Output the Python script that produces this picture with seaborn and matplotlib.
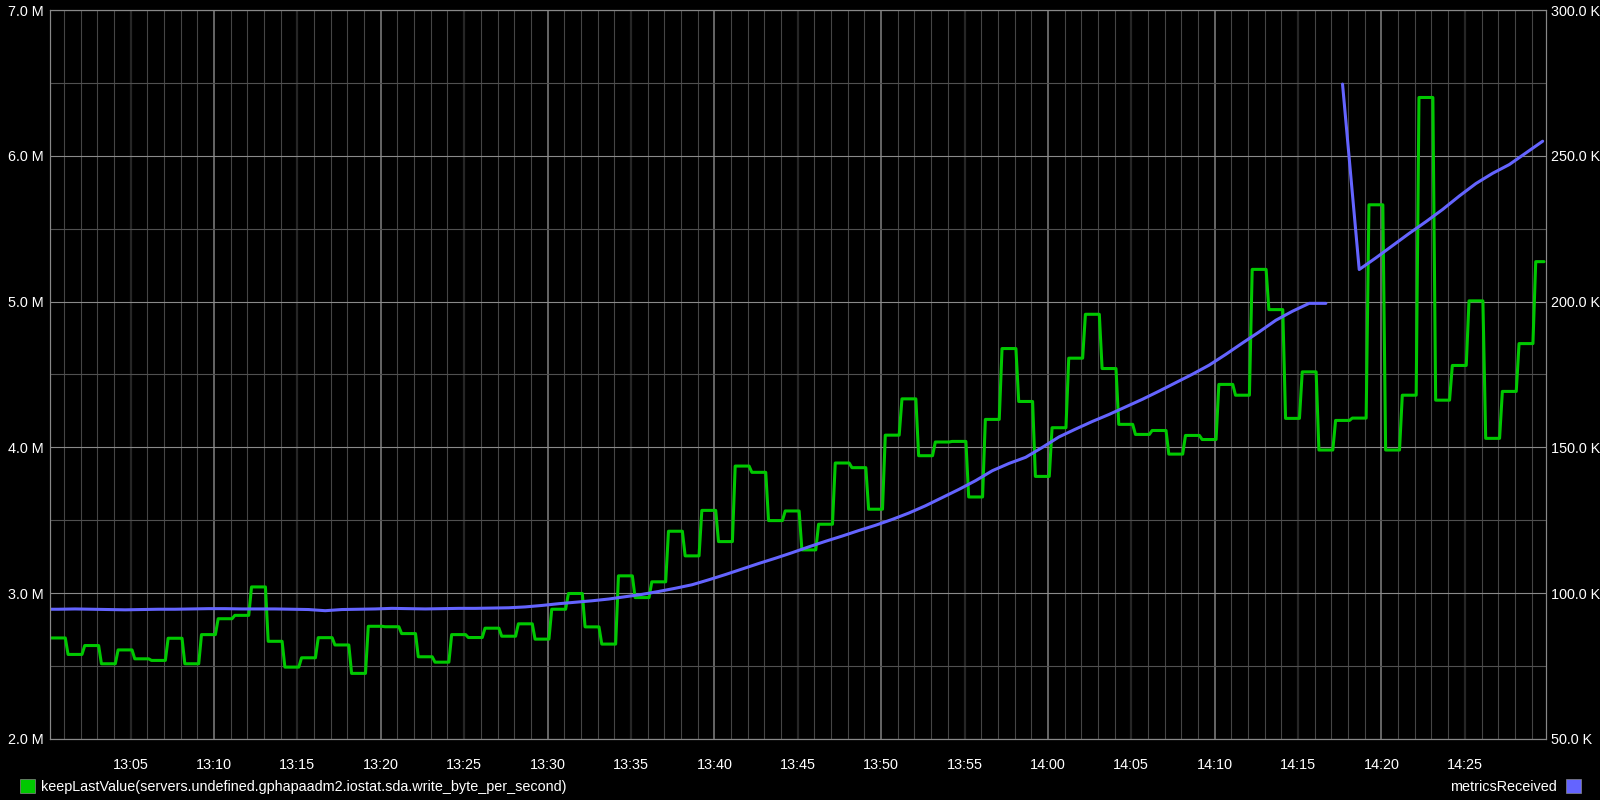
import numpy as np
import pandas as pd
import matplotlib
matplotlib.use("Agg")
import matplotlib.pyplot as plt
import matplotlib.dates as mdates
from matplotlib.patches import Patch
from matplotlib.ticker import FuncFormatter, MultipleLocator
import seaborn as sns

DAY = "2015-06-01 "
GREEN = "#00c800"
BLUE = "#6464ff"
FS = 10.4

green_label = "keepLastValue(servers.undefined.gphapaadm2.iostat.sda.write_byte_per_second)"
blue_label = "metricsReceived"

# write_byte_per_second in millions, one reported value per minute from 13:00
# (keepLastValue holds it over the 10 s slots until the next report)
write_mb = [
    2.693, 2.580, 2.641, 2.516, 2.611, 2.550, 2.539, 2.691, 2.516, 2.716,
    2.825, 2.848, 3.043, 2.670, 2.493, 2.557, 2.695, 2.645, 2.450, 2.773,
    2.770, 2.723, 2.564, 2.527, 2.716, 2.696, 2.760, 2.705, 2.790, 2.685,
    2.890, 2.998, 2.769, 2.651, 3.119, 2.970, 3.078, 3.425, 3.256, 3.568,
    3.354, 3.872, 3.829, 3.498, 3.564, 3.297, 3.473, 3.893, 3.861, 3.576,
    4.084, 4.333, 3.943, 4.037, 4.041, 3.660, 4.192, 4.678, 4.315, 3.801,
    4.135, 4.612, 4.913, 4.541, 4.158, 4.089, 4.116, 3.954, 4.082, 4.054,
    4.432, 4.358, 5.221, 4.945, 4.199, 4.518, 3.982, 4.185, 4.201, 5.664,
    3.982, 4.358, 6.400, 4.324, 4.562, 5.005, 4.062, 4.384, 4.712, 5.274,
]

# metricsReceived in thousands, one point per minute at hh:mm:40
metrics_before = [  # 12:59:40 .. 14:16:40
    94.5, 94.5, 94.6, 94.5, 94.4, 94.3, 94.4, 94.5, 94.5, 94.6,
    94.7, 94.7, 94.6, 94.6, 94.6, 94.5, 94.4, 94.0, 94.4, 94.5,
    94.6, 94.8, 94.7, 94.6, 94.7, 94.8, 94.8, 94.9, 95.0, 95.3,
    95.8, 96.4, 96.9, 97.4, 98.0, 98.8, 99.6, 100.6, 101.7, 102.9,
    104.6, 106.4, 108.3, 110.2, 112.0, 113.9, 115.9, 117.8, 119.6, 121.5,
    123.3, 125.3, 127.5, 130.0, 132.8, 135.6, 138.6, 142.0, 144.5, 146.6,
    150.0, 153.6, 156.3, 158.9, 161.3, 163.9, 166.5, 169.3, 172.2, 175.1,
    178.2, 181.9, 185.8, 189.6, 193.6, 196.7, 199.4, 199.4,
]
metrics_after = [  # 14:17:40 .. 14:29:40
    274.6, 211.0, 215.0, 219.2, 223.4, 227.4, 231.6, 236.2, 240.5, 244.0,
    247.0, 251.0, 255.0,
]

green_times = pd.date_range(DAY + "13:00:15", DAY + "14:29:45", freq="10s")
green_df = pd.DataFrame({
    "time": green_times,
    "value": np.repeat(np.array(write_mb) * 1e6, 6)[:len(green_times)],
})

blue_df = pd.concat([
    pd.DataFrame({"time": pd.date_range(DAY + "12:59:40", periods=len(metrics_before), freq="min"),
                  "value": np.array(metrics_before) * 1e3, "segment": 0}),
    pd.DataFrame({"time": pd.date_range(DAY + "14:17:40", periods=len(metrics_after), freq="min"),
                  "value": np.array(metrics_after) * 1e3, "segment": 1}),
])

sns.set_theme(style="dark", rc={
    "figure.facecolor": "black",
    "axes.facecolor": "black",
    "axes.edgecolor": "#888888",
    "text.color": "white",
    "xtick.color": "white",
    "ytick.color": "white",
})
plt.rcParams["font.family"] = ["Liberation Sans", "DejaVu Sans"]

fig = plt.figure(figsize=(16, 8), dpi=100)
ax = fig.add_axes([0.03125, 0.07625, 0.935, 0.91125])
ax2 = ax.twinx()

# vertical grid: every minute, darker every 5, bright every 10
t_minutes = pd.date_range(DAY + "13:01", DAY + "14:29", freq="min")
t_fives = [t for t in t_minutes if t.minute % 5 == 0 and t.minute % 10 != 0]
t_tens = [t for t in t_minutes if t.minute % 10 == 0]
t_ones = [t for t in t_minutes if t.minute % 5 != 0]
xt = ax.get_xaxis_transform()
ax.vlines(t_ones, 0, 1, transform=xt, colors="#454545", lw=0.8, zorder=0.5)
ax.vlines(t_fives, 0, 1, transform=xt, colors="#262626", lw=1.6, zorder=0.5)
ax.vlines(t_tens, 0, 1, transform=xt, colors="#6e6e6e", lw=1.3, zorder=0.5)

sns.lineplot(data=green_df, x="time", y="value", color=GREEN, lw=2.2, ax=ax, legend=False)
sns.lineplot(data=blue_df, x="time", y="value", units="segment", estimator=None,
             color=BLUE, lw=2.2, ax=ax2, legend=False)

ax.set_xlim(pd.Timestamp(DAY + "13:00:10"), pd.Timestamp(DAY + "14:29:52"))
ax.set_ylim(2e6, 7e6)
ax2.set_ylim(50e3, 300e3)

ax.xaxis.set_major_locator(mdates.MinuteLocator(byminute=range(0, 60, 5)))
ax.xaxis.set_major_formatter(mdates.DateFormatter("%H:%M"))
ax.yaxis.set_major_locator(MultipleLocator(1e6))
ax.yaxis.set_minor_locator(MultipleLocator(5e5))
ax.yaxis.set_major_formatter(FuncFormatter(lambda v, p: f"{v / 1e6:.1f} M"))
ax2.yaxis.set_major_locator(MultipleLocator(50e3))
ax2.yaxis.set_major_formatter(FuncFormatter(lambda v, p: f"{v / 1e3:.1f} K"))

ax.grid(False)
ax2.grid(False)
ax.grid(axis="y", which="major", color="#8a8a8a", lw=0.8)
ax.grid(axis="y", which="minor", color="#505050", lw=0.8)
ax.set_axisbelow(True)

ax.set_xlabel("")
ax.set_ylabel("")
ax2.set_ylabel("")
ax.tick_params(axis="x", length=0, pad=13.5, labelsize=FS, colors="white")
ax.tick_params(axis="y", which="both", length=0, pad=4.5, labelsize=FS, colors="white")
ax2.tick_params(axis="y", length=0, pad=3.5, labelsize=FS, colors="white")
for a in (ax, ax2):
    for s in a.spines.values():
        s.set_color("#888888")
        s.set_linewidth(0.8)

fig.legend(handles=[Patch(facecolor=GREEN, edgecolor="#888888", lw=0.5, label=green_label)],
           loc="lower left", bbox_to_anchor=(0.009, 0.0), borderaxespad=0,
           frameon=False, handlelength=1.05, handleheight=1.1, handletextpad=0.4,
           fontsize=FS, labelcolor="white")
fig.legend(handles=[Patch(facecolor=BLUE, edgecolor="#888888", lw=0.5, label=blue_label)],
           loc="lower right", bbox_to_anchor=(0.9916, 0.0), borderaxespad=0,
           frameon=False, markerfirst=False, handlelength=1.05, handleheight=1.1,
           handletextpad=0.6, fontsize=FS, labelcolor="white")

fig.savefig("out.png", dpi=100, facecolor="black")
